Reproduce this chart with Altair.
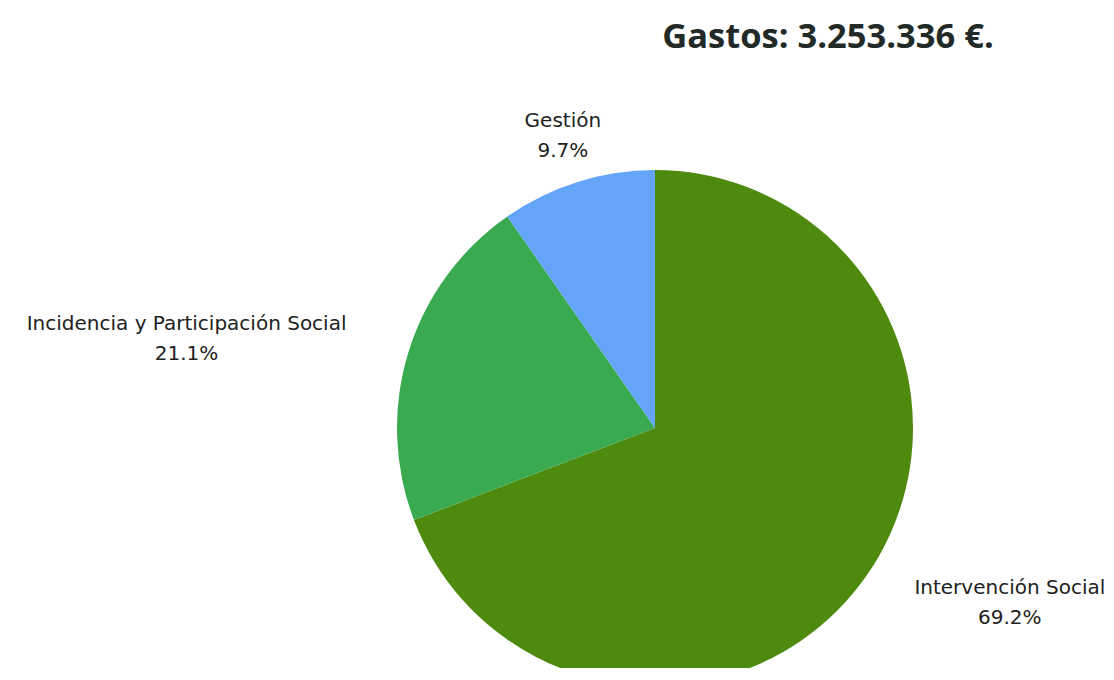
import altair as alt
import pandas as pd

categories = ["Intervención Social", "Incidencia y Participación Social", "Gestión"]
values = [69.2, 21.1, 9.7]
colors = ["#4e8a0e", "#3aaa50", "#64a5fa"]
title_text = "Gastos: 3.253.336 €."

# label block offsets from the radial anchor (style only)
label_dx = [102, -175, 0]

df = pd.DataFrame({"cat": categories, "val": values, "idx": list(range(len(categories)))})

base = alt.Chart(df).encode(
    theta=alt.Theta("val:Q", stack=True),
    order=alt.Order("idx:Q"),
)

pie = base.mark_arc(outerRadius=258).encode(
    color=alt.Color("cat:N", scale=alt.Scale(domain=categories, range=colors), legend=None, sort=None),
)

label_font = "DejaVu Sans"
layers = [pie]
for cat, ddx in zip(categories, label_dx):
    layers.append(
        base.transform_calculate(
            label="[datum.cat, format(datum.val, '.1f') + '%']"
        ).mark_text(
            radius=307, align="center", baseline="middle", font=label_font, fontSize=20,
            lineHeight=30, color="#222222", dy=-14, dx=ddx,
        ).encode(
            text=alt.Text("label:N"),
            opacity=alt.condition(alt.datum.cat == cat, alt.value(1), alt.value(0)),
        )
    )

chart = alt.layer(*layers).properties(
    width=902,
    height=480,
    padding={"left": 196, "right": 0, "top": 180, "bottom": 0},
    autosize=alt.AutoSizeParams(type="none"),
    title=alt.TitleParams(
        text=title_text, font="Open Sans", fontSize=34.5, fontWeight="bold",
        color="#222a28", anchor="middle", dx=173, offset=0, baseline="alphabetic", dy=-29,
    ),
).configure_view(stroke=None)

chart.save("out.html", embed_options={"renderer": "svg", "actions": False})
